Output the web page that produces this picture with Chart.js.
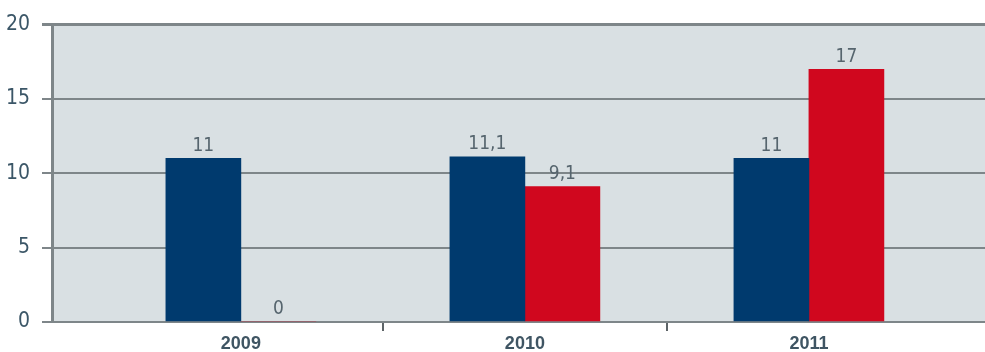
<!DOCTYPE html>
<html>
<head>
<meta charset="utf-8">
<script src="https://cdn.jsdelivr.net/npm/chart.js@4/dist/chart.umd.min.js"></script>
<style>
  html, body { margin: 0; padding: 0; background: #fff; }
  #wrap { width: 985px; height: 352px; }
</style>
</head>
<body>
<div id="wrap"><canvas id="chart" width="985" height="352"></canvas></div>
<script>
let categories = ['2009', '2010', '2011']
let blueValues = [11, 11.1, 11]
let redValues = [0, 9.1, 17]
let yTicks = [0, 5, 10, 15, 20]

let plotBg = '#d9e0e3'
let gridCol = '#7e8689'
let narrowFamily = '"Liberation Sans Narrow", "DejaVu Sans", sans-serif'

function toPoints(values) {
  return values.map((v, i) => ({x: i, y: v}))
}

// plot area background
let bgPlugin = {
  id: 'plotBg',
  beforeDraw(chart) {
    let a = chart.chartArea
    let ctx = chart.ctx
    ctx.save()
    ctx.fillStyle = plotBg
    ctx.fillRect(a.left, a.top, a.right - a.left, a.bottom - a.top)
    ctx.restore()
  },
}

// values over the bars, with a decimal comma
let valuePlugin = {
  id: 'values',
  afterDatasetsDraw(chart) {
    let ctx = chart.ctx
    ctx.save()
    ctx.font = '400 condensed 19px ' + narrowFamily
    ctx.fillStyle = '#56656e'
    ctx.textAlign = 'center'
    ctx.textBaseline = 'bottom'
    chart.data.datasets.forEach((ds, di) => {
      chart.getDatasetMeta(di).data.forEach((bar, i) => {
        let txt = String(ds.data[i].y).replace('.', ',')
        ctx.fillText(txt, bar.x, bar.y - 3)
      })
    })
    ctx.restore()
  },
}

let ctx = document.getElementById('chart').getContext('2d')
let chart = new Chart(ctx, {
  type: 'bar',
  data: {
    datasets: [
      {
        data: toPoints(blueValues),
        backgroundColor: '#003a6e',
        barThickness: 75,
      },
      {
        data: toPoints(redValues),
        backgroundColor: '#d0071e',
        barThickness: 75,
      },
    ],
  },
  options: {
    responsive: false,
    animation: false,
    layout: {padding: {top: 2, right: 0, left: 0, bottom: 0}},
    plugins: {legend: {display: false}, tooltip: {enabled: false}},
    scales: {
      x: {
        type: 'linear',
        offset: false,
        min: -0.665,
        max: 2.62,
        afterBuildTicks(scale) {
          scale.ticks = [0, 0.5, 1, 1.5, 2].map(v => ({value: v}))
        },
        afterFit(scale) {
          scale.height = 30
        },
        ticks: {
          autoSkip: false,
          maxRotation: 0,
          padding: 2,
          color: '#3f5563',
          font: {family: '"Liberation Sans", Arial, sans-serif', size: 18, weight: 'bold'},
          callback: v => Number.isInteger(v) ? categories[v] : '',
        },
        grid: {
          offset: false,
          drawOnChartArea: false,
          tickLength: 9,
          lineWidth: 2,
          color: c => (c.tick && !Number.isInteger(c.tick.value)) ? '#5d6467' : 'rgba(0,0,0,0)',
        },
        border: {display: false},
      },
      y: {
        min: 0,
        max: 20,
        afterBuildTicks(scale) {
          scale.ticks = yTicks.map(v => ({value: v}))
        },
        afterFit(scale) {
          scale.width = 52
        },
        ticks: {
          padding: 12,
          color: '#3b5667',
          font: {family: narrowFamily, size: 21, weight: '400 condensed'},
        },
        grid: {
          color: gridCol,
          lineWidth: c => (c.tick && c.tick.value === 20) ? 3 : 2,
          tickLength: 10,
        },
        border: {color: gridCol, width: 3},
      },
    },
  },
  plugins: [bgPlugin, valuePlugin],
})
</script>
</body>
</html>
